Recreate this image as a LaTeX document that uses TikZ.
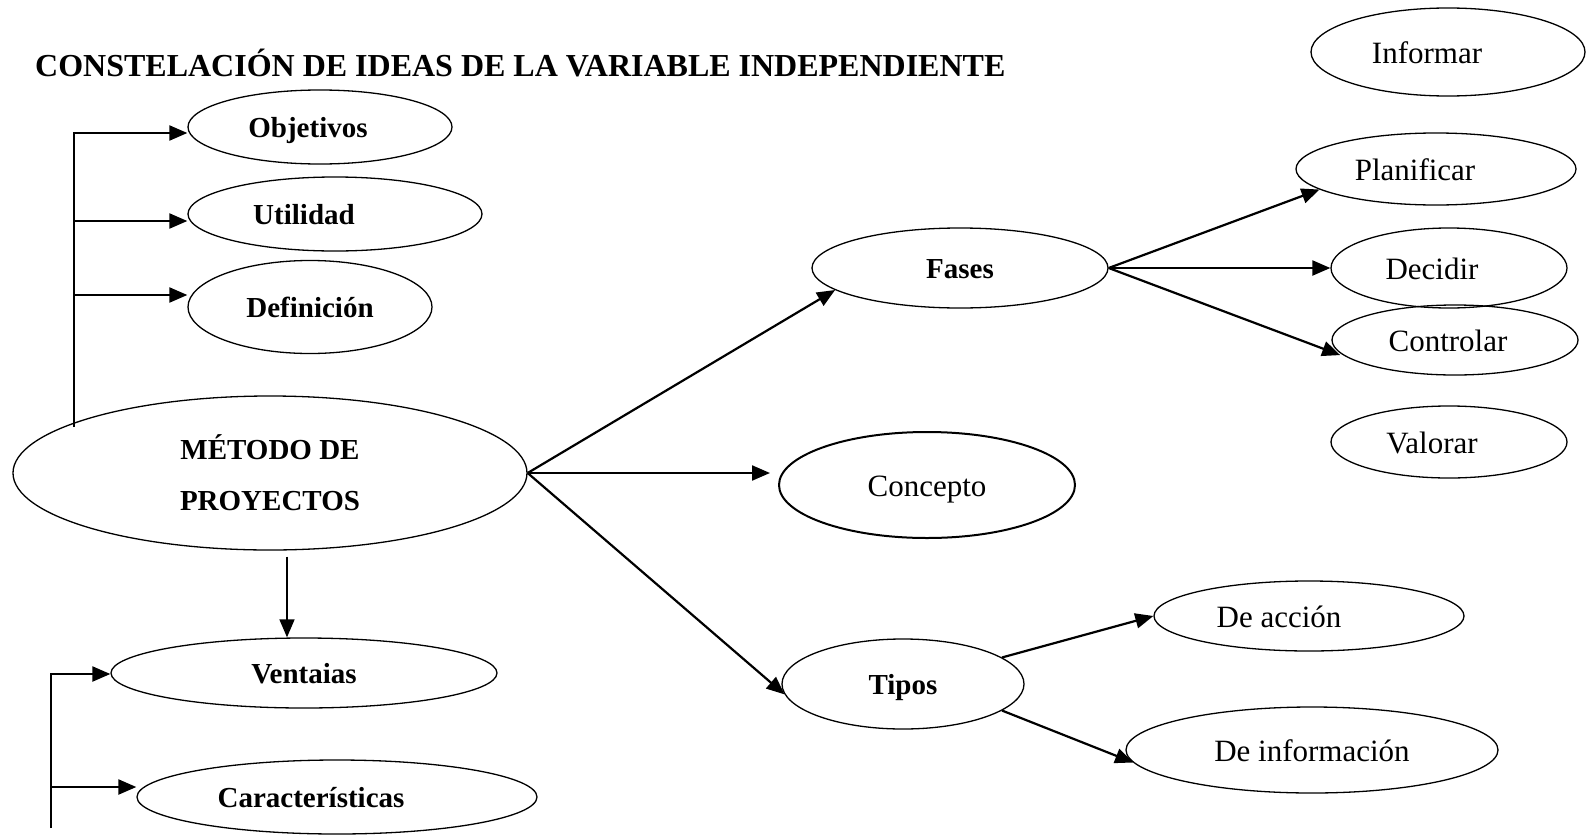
\documentclass[tikz,border=0pt]{standalone}
\usepackage{fontspec}
\setmainfont{Liberation Serif}
\usetikzlibrary{shapes.geometric}
\usetikzlibrary{arrows.meta}

\begin{document}
\begin{tikzpicture}[x=1pt,y=-1pt,
                    idea/.style={ellipse, draw, line width=1.3pt, inner sep=0pt},
                    negrita/.style={font=\fontsize{29}{51}\selectfont\bfseries, text height=20pt, text depth=0pt},
                    normal/.style={font=\fontsize{31}{36}\selectfont, text height=22pt, text depth=0pt},
                    flecha/.style={line width=2.2pt, -{Triangle[length=18pt,width=15pt]}}]
                    \useasboundingbox (0,0) rectangle (1587,835);
                    \node[anchor=base west, inner sep=0pt, font=\fontsize{32}{38}\selectfont\bfseries] (Tit) at (35,76) {CONSTELACIÓN DE IDEAS DE LA VARIABLE INDEPENDIENTE};
                    \node[idea, negrita, minimum width=264pt, minimum height=74pt] (Obj) at (320,127) {Objetivos\hspace*{24pt}};
                    \node[idea, negrita, minimum width=294pt, minimum height=74pt] (Uti) at (335,214) {Utilidad\hspace*{62pt}};
                    \node[idea, negrita, minimum width=244pt, minimum height=93pt] (Def) at (310,307) {Definición};
                    \node[idea, align=center, font=\fontsize{29}{51}\selectfont\bfseries, minimum width=514pt, minimum height=154pt] (Met) at (270,473) {MÉTODO DE\\PROYECTOS};
                    \node[idea, negrita, minimum width=386pt, minimum height=70pt] (Ven) at (304,673) {Ventaias};
                    \node[idea, negrita, minimum width=400pt, minimum height=74pt] (Car) at (337,797) {Características\hspace*{52pt}};
                    \node[idea, negrita, minimum width=296pt, minimum height=80pt] (Fas) at (960,268) {Fases};
                    \node[idea, normal, line width=2pt, minimum width=296pt, minimum height=106pt] (Con) at (927,485) {Concepto};
                    \node[idea, negrita, minimum width=242pt, minimum height=90pt] (Tip) at (903,684) {Tipos};
                    \node[idea, normal, minimum width=274pt, minimum height=88pt] (Inf) at (1448,52) {Informar\hspace*{42pt}};
                    \node[idea, normal, minimum width=280pt, minimum height=72pt] (Pla) at (1436,169) {Planificar\hspace*{42pt}};
                    \node[idea, normal, minimum width=236pt, minimum height=80pt] (Dec) at (1449,268) {Decidir\hspace*{34pt}};
                    \node[idea, normal, minimum width=246pt, minimum height=70pt] (Ctl) at (1455,340) {Controlar\hspace*{14pt}};
                    \node[idea, normal, minimum width=236pt, minimum height=72pt] (Val) at (1449,442) {Valorar\hspace*{34pt}};
                    \node[idea, normal, minimum width=310pt, minimum height=70pt] (Acc) at (1309,616) {De acción\hspace*{60pt}};
                    \node[idea, normal, minimum width=372pt, minimum height=86pt] (Dinf) at (1312,750) {De información};
                    % llaves de la izquierda
                    \coordinate (B0) at (74,133);
                    \coordinate (B1) at (74,221);
                    \coordinate (B2) at (74,295);
                    \coordinate (B3) at (74,427);
                    \draw[flecha] (B3) -- (B0) -- (B0 -| Obj.west);
                    \draw[flecha] (B1) -- (B1 -| Uti.west);
                    \draw[flecha] (B2) -- (B2 -| Def.west);
                    \coordinate (C0) at (51,674);
                    \coordinate (C1) at (51,787);
                    \coordinate (C2) at (51,828);
                    \draw[flecha] (C2) -- (C0) -- (C0 -| Ven.west);
                    \draw[flecha] (C1) -- (C1 -| Car.west);
                    % ramas
                    \draw[flecha, line width=1.6pt] ([shift={(17pt,-6pt)}]Met.south) -- ([xshift=-17pt]Ven.north);
                    \draw[flecha] (Met.east) -- (Fas.190);
                    \draw[flecha] (Met.east) -- ([xshift=-8pt]Met.east -| Con.west);
                    \draw[flecha] (Met.east) -- (Tip.185);
                    \draw[flecha] (Fas.east) -- (Pla.190);
                    \draw[flecha] (Fas.east) -- (Dec.west);
                    \draw[flecha, shorten >=10pt] (Fas.east) -- (Ctl.190);
                    \draw[flecha] (Tip.15) -- (Acc.west);
                    \draw[flecha] (Tip.345) -- (Dinf.184);
                \end{tikzpicture}
\end{document}
